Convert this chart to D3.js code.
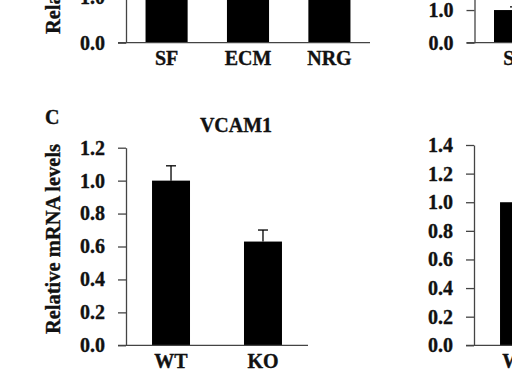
<!DOCTYPE html>
<html><head><meta charset="utf-8">
<script src="https://cdn.jsdelivr.net/npm/d3@7"></script>
<style>
html,body{margin:0;padding:0;background:#fff;overflow:hidden}
svg text{font-family:"Liberation Serif","Times New Roman",serif;font-weight:bold;fill:#111;stroke:#111;stroke-width:0.35px}
</style></head>
<body><svg id="c" width="512" height="376"></svg>
<script>
// Data
const topCategories = ["SF", "ECM", "NRG"];
const topLeftValues = [1.0, 1.3, 1.2];
const topLeftErrors = [0.08, 0.1, 0.1];
const topLeftTicks = [0.0, 1.0];
const topRightValues = [1.0, 1.8, 1.6];
const topRightErrors = [0.1, 0.1, 0.1];
const topRightTicks = [0.0, 1.0, 2.0];
const vcamCategories = ["WT", "KO"];
const vcamValues = [1.0, 0.63];
const vcamErrors = [0.09, 0.07];
const vcamTicks = [0.0, 0.2, 0.4, 0.6, 0.8, 1.0, 1.2];
const rightCategories = ["WT", "KO"];
const rightValues = [1.0, 0.7];
const rightErrors = [0.08, 0.08];
const rightTicks = [0.0, 0.2, 0.4, 0.6, 0.8, 1.0, 1.2, 1.4];

const svg = d3.select("#c");
const fmt = d3.format(".1f");
const FS = 20;

function panel(o) {
  const g = svg.append("g");
  const y = d3.scaleLinear().domain(o.domain).range(o.yRange);
  const x = d3.scaleBand().domain(o.cats).range([o.ax, o.xEnd])
    .paddingInner(o.pi).paddingOuter(o.po);
  g.selectAll("rect.bar").data(o.vals).join("rect")
    .attr("x", (d, i) => x(o.cats[i]))
    .attr("width", x.bandwidth())
    .attr("y", d => y(d))
    .attr("height", d => y(0) - y(d))
    .attr("fill", "#000");
  g.selectAll("line.err").data(o.vals).join("line")
    .attr("x1", (d, i) => x(o.cats[i]) + x.bandwidth() / 2)
    .attr("x2", (d, i) => x(o.cats[i]) + x.bandwidth() / 2)
    .attr("y1", d => y(d))
    .attr("y2", (d, i) => y(d + o.errs[i]))
    .attr("stroke", "#000").attr("stroke-width", 1.3);
  g.selectAll("line.cap").data(o.vals).join("line")
    .attr("x1", (d, i) => x(o.cats[i]) + x.bandwidth() / 2 - 5)
    .attr("x2", (d, i) => x(o.cats[i]) + x.bandwidth() / 2 + 5)
    .attr("y1", (d, i) => y(d + o.errs[i]))
    .attr("y2", (d, i) => y(d + o.errs[i]))
    .attr("stroke", "#000").attr("stroke-width", 1.3);
  const ya = g.append("g").attr("transform", `translate(${o.ax},0)`)
    .call(d3.axisLeft(y).tickValues(o.ticks).tickFormat(fmt)
      .tickSize(8).tickSizeOuter(0).tickPadding(13));
  ya.selectAll("path,line").attr("stroke", "#444").attr("stroke-width", 1.3);
  ya.selectAll("text").attr("font-size", FS).attr("fill", "#111")
    .attr("font-family", "Liberation Serif").attr("font-weight", "bold");
  g.append("line").attr("x1", o.ax - 8).attr("x2", o.xEnd)
    .attr("y1", y(0)).attr("y2", y(0))
    .attr("stroke", "#444").attr("stroke-width", 1.3);
  g.selectAll("text.cat").data(o.cats).join("text")
    .attr("x", d => x(d) + x.bandwidth() / 2)
    .attr("y", y(0) + o.labelDy)
    .attr("text-anchor", "middle").attr("font-size", FS)
    .text(d => d);
  return {x, y};
}

panel({cats: topCategories, vals: topLeftValues, errs: topLeftErrors, ticks: topLeftTicks,
  domain: [0, 1], yRange: [42.7, -3], ax: 126, xEnd: 370, pi: 0.483, po: 0.24, labelDy: 22});
panel({cats: topCategories, vals: topRightValues, errs: topRightErrors, ticks: topRightTicks,
  domain: [0, 2], yRange: [42.7, -22.6], ax: 474.5, xEnd: 718, pi: 0.483, po: 0.24, labelDy: 22});
panel({cats: vcamCategories, vals: vcamValues, errs: vcamErrors, ticks: vcamTicks,
  domain: [0, 1.2], yRange: [345.3, 147.7], ax: 126, xEnd: 308, pi: 0.587, po: 0.283, labelDy: 23});
panel({cats: rightCategories, vals: rightValues, errs: rightErrors, ticks: rightTicks,
  domain: [0, 1.4], yRange: [345.3, 145], ax: 474, xEnd: 656, pi: 0.587, po: 0.283, labelDy: 23});

svg.append("text").attr("x", 236).attr("y", 131.5).attr("text-anchor", "middle")
  .attr("font-size", FS).text("VCAM1");
svg.append("text").attr("x", 45).attr("y", 123.5).attr("font-size", FS).text("C");
svg.append("text").attr("transform", "translate(60,239) rotate(-90)")
  .attr("text-anchor", "middle").attr("font-size", 20.5).text("Relative mRNA levels");
svg.append("text").attr("transform", "translate(60,-61) rotate(-90)")
  .attr("text-anchor", "middle").attr("font-size", 20.5).text("Relative mRNA levels");
</script></body></html>
